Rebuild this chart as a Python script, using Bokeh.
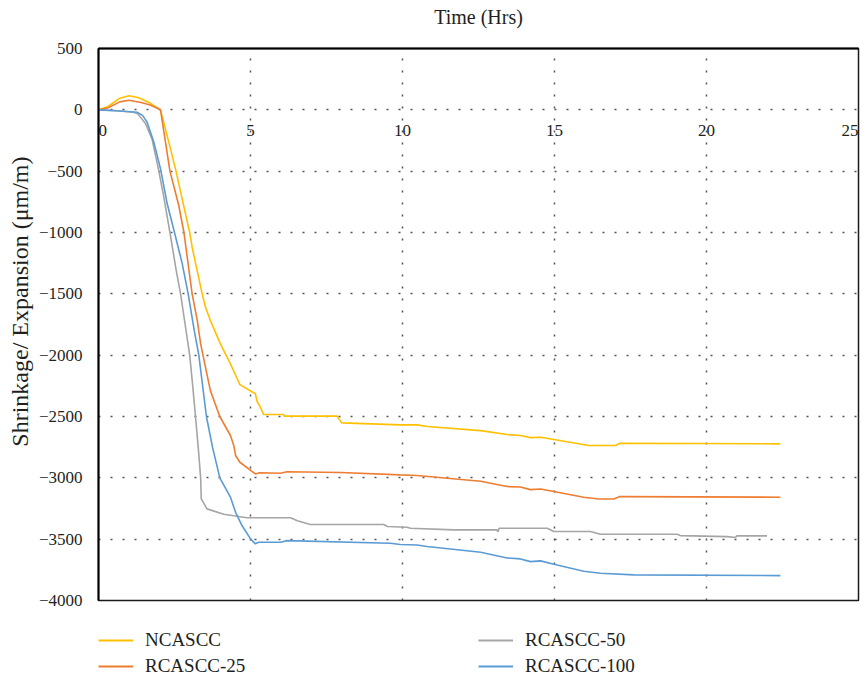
from bokeh.plotting import figure
from bokeh.layouts import column
from bokeh.models import FixedTicker, Legend, LegendItem, Range1d, LinearAxis, Title, ColumnDataSource
from bokeh.core.properties import value
from bokeh.embed import file_html
from bokeh.resources import INLINE

# ---- data ----
nc_x = [0, 0.3, 0.7, 1.0, 1.3, 1.7, 2.04, 2.35, 2.55, 2.8, 3.0, 3.08, 3.41, 3.52, 3.68, 4.01, 4.34,
        4.54, 4.65, 5.16, 5.22, 5.3, 5.43, 6.09, 6.11, 7.85, 8.0, 9.93, 10.48, 10.81, 12.57, 13.44,
        13.88, 14.21, 14.54, 14.98, 16.13, 17.01, 17.15, 22.43]
nc_y = [0, 25, 95, 115, 100, 55, 0, -300, -500, -780, -1000, -1120, -1500, -1609, -1718, -1908, -2071,
        -2180, -2240, -2315, -2380, -2410, -2484, -2484, -2497, -2497, -2552, -2568, -2568, -2582, -2615, -2647,
        -2655, -2672, -2669, -2688, -2737, -2737, -2718, -2723]

r25_x = [0, 0.3, 0.7, 1.0, 1.4, 1.7, 2.04, 2.35, 2.64, 2.81, 3.08, 3.25, 3.36, 3.52, 3.68, 3.99, 4.34,
         4.45, 4.51, 4.65, 5.16, 5.3, 5.99, 6.2, 7.96, 9.93, 10.48, 12.57, 13.44, 13.88, 14.21, 14.54,
         14.98, 15.96, 16.46, 16.95, 17.15, 22.43]
r25_y = [0, 15, 65, 78, 60, 40, 0, -500, -780, -1000, -1500, -1718, -1908, -2099, -2289, -2500, -2655,
         -2737, -2818, -2873, -2968, -2958, -2963, -2950, -2957, -2976, -2981, -3028, -3071, -3075, -3096, -3091,
         -3112, -3158, -3172, -3172, -3153, -3158]

r50_x = [0, 0.6, 1.16, 1.3, 1.55, 1.76, 1.97, 2.14, 2.35, 2.55, 2.7, 2.85, 3.0, 3.1, 3.19, 3.28, 3.36,
         3.38, 3.57, 4.12, 4.89, 6.32, 6.54, 6.97, 9.38, 9.51, 10.15, 10.26, 11.69, 13.11, 13.14, 13.18,
         14.76, 14.98, 16.18, 16.51, 19.03, 19.14, 20.68, 20.95, 21.0, 21.99]
r50_y = [0, -8, -20, -35, -114, -237, -481, -699, -1000, -1300, -1500, -1750, -2000, -2250, -2500, -2750, -3000,
         -3172, -3253, -3297, -3325, -3325, -3349, -3381, -3381, -3397, -3403, -3411, -3424, -3424, -3440, -3411,
         -3411, -3438, -3438, -3460, -3460, -3471, -3479, -3487, -3473, -3473]

r100_x = [0, 0.6, 1.27, 1.45, 1.6, 1.82, 2.04, 2.26, 2.5, 2.75, 2.95, 3.15, 3.3, 3.55, 3.75, 3.99, 4.34,
          4.51, 4.72, 5.0, 5.16, 5.27, 5.99, 6.2, 9.6, 9.93, 10.48, 10.81, 12.57, 13.44, 13.88, 14.21,
          14.54, 14.98, 15.96, 16.51, 17.61, 22.43]
r100_y = [0, -8, -20, -45, -101, -264, -481, -766, -1000, -1250, -1500, -1800, -2000, -2500, -2750, -3000, -3158,
          -3281, -3389, -3498, -3538, -3525, -3525, -3512, -3533, -3544, -3547, -3560, -3607, -3653, -3661, -3683,
          -3677, -3705, -3762, -3778, -3791, -3797]

x_ticks = [0, 5, 10, 15, 20, 25]
x_tick_labels = ["0", "5", "10", "15", "20", "25"]
y_ticks = [500, 0, -500, -1000, -1500, -2000, -2500, -3000, -3500, -4000]

series_names = ["NCASCC", "RCASCC-25", "RCASCC-50", "RCASCC-100"]
colors = ["#FFC000", "#ED7D31", "#A5A5A5", "#5B9BD5"]

FONT = "Liberation Serif"
TXT = "#231F20"

p = figure(width=868, height=612, output_backend="svg", toolbar_location=None,
           x_range=Range1d(0, 25), y_range=Range1d(-4000, 500),
           min_border_left=98, min_border_right=10, min_border_top=48, min_border_bottom=12)
p.background_fill_color = "white"
p.border_fill_color = "white"
p.outline_line_color = "#1a1a1a"
p.outline_line_width = 1.5

# hide default bottom axis (labels are drawn on the zero line instead)
p.xaxis[0].visible = False

# top axis: line and title only
xt = LinearAxis(ticker=FixedTicker(ticks=[]))
xt.axis_label = "Time (Hrs)"
xt.axis_label_text_font = FONT
xt.axis_label_text_font_style = "normal"
xt.axis_label_text_font_size = "20px"
xt.axis_label_text_color = TXT
xt.axis_label_standoff = 21
xt.axis_line_color = "black"
xt.axis_line_width = 2
xt.major_tick_line_color = None
xt.minor_tick_line_color = None
p.add_layout(xt, "above")

ya = p.yaxis[0]
ya.ticker = FixedTicker(ticks=y_ticks)
ya.major_label_text_font = FONT
ya.major_label_text_font_size = "17px"
ya.major_label_text_color = TXT
ya.major_label_standoff = 10
ya.axis_line_color = "black"
ya.axis_line_width = 2
ya.major_tick_line_color = None
ya.minor_tick_line_color = None

ytitle = Title(text="Shrinkage/ Expansion (μm/m)", align="right", offset=108,
               text_font=FONT, text_font_style="normal", text_font_size="24px",
               text_color=TXT, standoff=6)
p.add_layout(ytitle, "left")

p.xgrid.ticker = FixedTicker(ticks=x_ticks)
p.ygrid.ticker = FixedTicker(ticks=y_ticks)
for g in (p.xgrid[0], p.ygrid[0]):
    g.grid_line_color = "#555555"
    g.grid_line_dash = "2 10"
    g.grid_line_width = 1.5

# x tick labels sitting on the zero line (edge labels kept inside the frame)
aligns = ["left"] + ["center"] * (len(x_ticks) - 2) + ["right"]
lab_src = ColumnDataSource(dict(x=x_ticks, y=[0] * len(x_ticks), t=x_tick_labels, a=aligns))
p.text(x="x", y="y", text="t", text_align="a", source=lab_src, text_font=value(FONT),
       text_font_size="17px", text_color=TXT, text_baseline="top", y_offset=15)

for xs, ys, c in zip([nc_x, r25_x, r50_x, r100_x], [nc_y, r25_y, r50_y, r100_y], colors):
    p.line(xs, ys, line_color=c, line_width=1.6)

# ---- legend strip (separate figure below the chart) ----
q = figure(width=868, height=63, output_backend="svg", toolbar_location=None,
           x_range=Range1d(0, 1), y_range=Range1d(0, 1), x_axis_type=None, y_axis_type=None,
           min_border_left=0, min_border_right=0, min_border_top=0, min_border_bottom=0)
q.outline_line_color = None
q.background_fill_color = "white"
q.border_fill_color = "white"
nan = float("nan")
# key-only renderers (a single missing point: nothing is drawn in the strip itself)
key_renderers = [q.line(x=[nan], y=[nan], line_color=c, line_width=2) for c in colors]


def make_legend(idx, loc):
    lg = Legend(items=[LegendItem(label=series_names[i], renderers=[key_renderers[i]]) for i in idx],
                location=loc, orientation="vertical")
    lg.label_text_font = FONT
    lg.label_text_font_size = "19px"
    lg.label_text_color = TXT
    lg.glyph_width = 35
    lg.glyph_height = 24
    lg.label_height = 24
    lg.label_standoff = 12
    lg.spacing = 2
    lg.padding = 0
    lg.margin = 0
    lg.border_line_color = None
    lg.background_fill_alpha = 0
    return lg


q.add_layout(make_legend([0, 1], (0, -3)), "center")
q.add_layout(make_legend([2, 3], (380, -3)), "center")

layout = column(p, q, spacing=0)
open("out.html", "w").write(file_html(layout, INLINE))
